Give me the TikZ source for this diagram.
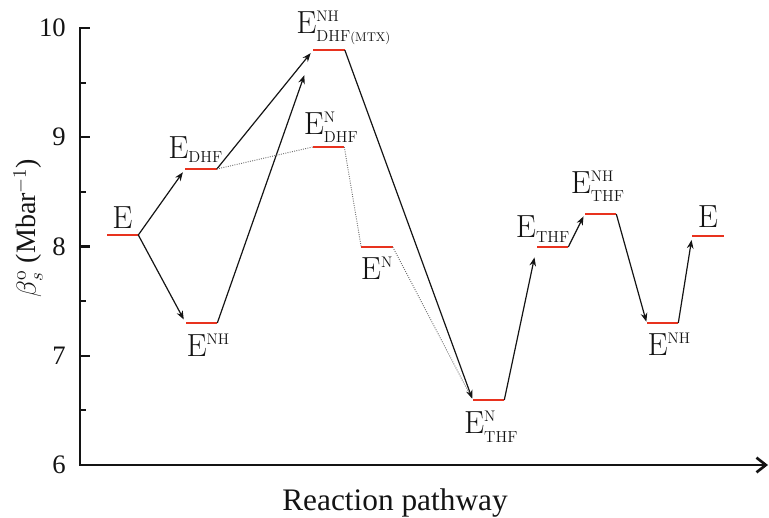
\documentclass[tikz,border=0pt]{standalone}
\usepackage{fontspec}
\newfontfamily\axisfont{Liberation Serif}
\usetikzlibrary{arrows.meta,positioning}
\definecolor{LvRed}{HTML}{E8321E}
\definecolor{PathInk}{HTML}{141414}
\definecolor{PathGray}{HTML}{707070}
\newcommand{\Sp}[1]{^{\mbox{\fontsize{11.5}{12}\selectfont #1}}}
\newcommand{\Sb}[1]{_{\mbox{\fontsize{12}{13}\selectfont #1}}}
\tikzset{
  lvl/.style={fill=LvRed,draw=none,inner sep=0pt,minimum width=23.3pt,minimum height=2.2pt},
  elabel/.style={text=PathInk,inner sep=0pt,font=\fontsize{24}{28}\selectfont},
  flow/.style={-{Stealth[length=6.5pt,width=5pt]},PathInk,line width=0.9pt,shorten >=1pt},
  faint/.style={PathGray,densely dotted,line width=0.7pt},
  axis/.style={PathInk,line width=2.2pt},
  ticklabel/.style={text=PathInk,anchor=east,inner sep=0pt,font=\axisfont\fontsize{20}{23}\selectfont},
  axislabel/.style={text=PathInk,inner sep=0pt,font=\axisfont\fontsize{21}{25}\selectfont},
}
\begin{document}
\begin{tikzpicture}[x=0.75pt,y=0.75pt]
  \useasboundingbox (0,0) rectangle (769,518);

  % axes
  \coordinate (O) at (80,53);
  \coordinate (ytop) at (80,490);
  \coordinate (xend) at (768,53);
  \draw[axis,line cap=rect] (ytop) -- (O);
  \draw[axis,-{Straight Barb[length=7pt,width=11pt,line width=2pt]}] (O) -- (xend);
  \foreach \v/\yy in {10/490,9/380.75,8/271.5,7/162.25,6/53} {
    \draw[axis,line width=1.8pt] (80,\yy) -- (90,\yy);
    \node[ticklabel] at (66,\yy) {\v};
  }
  \foreach \yy in {435.4,326.1,216.9,107.6}
    \draw[axis,line width=1.6pt] (80,\yy) -- (86,\yy);
  \node[axislabel,rotate=90] (ylab) at (28,290)
    {$\beta_{s}^{\mathrm{o}}$ (Mbar$^{-1}$)};
  \node[axislabel,font=\axisfont\fontsize{23.5}{27}\selectfont] (xlab) at (395,15) {Reaction pathway};

  % levels
  \node[lvl] (E1) at (122.5,283) {};
  \node[lvl] (EDHF) at (201,349) {};
  \node[lvl] (MTX) at (329,468) {};
  \node[lvl] (NDHF) at (328.5,371) {};
  \node[lvl] (EN) at (377,271) {};
  \node[lvl] (ENH1) at (201.5,195) {};
  \node[lvl] (NTHF) at (488.5,118) {};
  \node[lvl] (ETHF) at (552.5,271) {};
  \node[lvl] (NHTHF) at (600.5,304) {};
  \node[lvl] (ENH2) at (662.5,195) {};
  \node[lvl] (E2) at (708,282) {};

  % labels
  \node[elabel,above=3pt of E1] (lE1) {E};
  \node[elabel,above=3pt of EDHF,xshift=-4pt] (lEDHF) {$\mathrm{E}\Sb{DHF}$};
  \node[elabel,above=2.5pt of MTX,xshift=11pt] (lMTX)
    {$\mathrm{E}\Sp{NH}_{\mbox{\fontsize{12}{13}\selectfont DHF\fontsize{9.5}{10}\selectfont(MTX)}}$};
  \node[elabel,above=2pt of NDHF,xshift=2pt] (lNDHF) {$\mathrm{E}\Sp{N}\Sb{DHF}$};
  \node[elabel,below=6pt of EN] (lEN) {$\mathrm{E}\Sp{N}$};
  \node[elabel,below=7pt of ENH1,xshift=5pt] (lENH1) {$\mathrm{E}\Sp{NH}$};
  \node[elabel,below=7pt of NTHF,xshift=2pt] (lNTHF) {$\mathrm{E}\Sp{N}\Sb{THF}$};
  \node[elabel,anchor=south east,xshift=1.5pt,yshift=2pt] (lETHF) at (ETHF.north east) {$\mathrm{E}\Sb{THF}$};
  \node[elabel,above=8pt of NHTHF,xshift=-2pt] (lNHTHF) {$\mathrm{E}\Sp{NH}\Sb{THF}$};
  \node[elabel,below=6pt of ENH2,xshift=5pt] (lENH2) {$\mathrm{E}\Sp{NH}$};
  \node[elabel,above=5pt of E2] (lE2) {E};

  % pathways
  \draw[flow,shorten >=3pt] (E1.east) -- (EDHF.west);
  \draw[flow,shorten >=3pt] (E1.east) -- (ENH1.west);
  \draw[flow,shorten >=3pt] (EDHF.east) -- (MTX.west);
  \draw[flow,shorten >=20pt] (ENH1.east) -- (MTX.west);
  \draw[flow] (MTX.east) -- (NTHF.west);
  \draw[flow,shorten >=8pt] (NTHF.east) -- (ETHF.west);
  \draw[flow,shorten >=2pt] (ETHF.east) -- (NHTHF.west);
  \draw[flow] (NHTHF.east) -- (ENH2.west);
  \draw[flow,shorten >=3pt] (ENH2.east) -- (E2.west);
  \draw[faint] (EDHF.east) -- (NDHF.west);
  \draw[faint] (NDHF.east) -- (EN.west);
  \draw[faint,shorten >=6pt] (EN.east) -- (NTHF.west);
\end{tikzpicture}
\end{document}
